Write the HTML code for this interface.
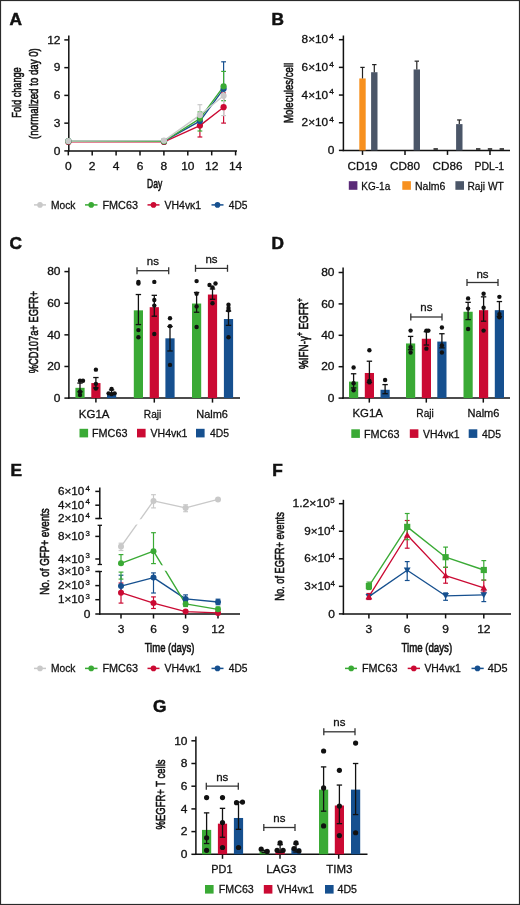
<!DOCTYPE html>
<html><head><meta charset="utf-8"><style>
html,body{margin:0;padding:0;background:#fff;}
body{width:520px;height:905px;overflow:hidden;position:relative;}
svg{position:absolute;left:0;top:0;}
text{font-family:"Liberation Sans", sans-serif;fill:#111;stroke:#111;stroke-width:0.28px;}
svg{will-change:transform;}
</style></head><body>
<svg width="520" height="905" viewBox="0 0 520 905">
<rect x="0" y="0" width="520" height="905" fill="#fff"/>
<text transform="translate(9.50,24.50) scale(1.08,1)" font-size="16" font-weight="bold" style="stroke-width:0.5px">A</text>
<line x1="68.80" y1="35.50" x2="68.80" y2="151.65" stroke="#111" stroke-width="1.5" />
<line x1="64.30" y1="150.90" x2="68.80" y2="150.90" stroke="#111" stroke-width="1.5" />
<text transform="translate(60.50,154.60) scale(1.2000,1)" font-size="10.0" text-anchor="end" >0</text>
<line x1="64.30" y1="123.15" x2="68.80" y2="123.15" stroke="#111" stroke-width="1.5" />
<text transform="translate(60.50,126.85) scale(1.2000,1)" font-size="10.0" text-anchor="end" >3</text>
<line x1="64.30" y1="95.40" x2="68.80" y2="95.40" stroke="#111" stroke-width="1.5" />
<text transform="translate(60.50,99.10) scale(1.2000,1)" font-size="10.0" text-anchor="end" >6</text>
<line x1="64.30" y1="67.65" x2="68.80" y2="67.65" stroke="#111" stroke-width="1.5" />
<text transform="translate(60.50,71.35) scale(1.2000,1)" font-size="10.0" text-anchor="end" >9</text>
<line x1="64.30" y1="39.90" x2="68.80" y2="39.90" stroke="#111" stroke-width="1.5" />
<text transform="translate(60.50,43.60) scale(1.2000,1)" font-size="10.0" text-anchor="end" >12</text>
<line x1="68.05" y1="150.90" x2="237.00" y2="150.90" stroke="#111" stroke-width="1.5" />
<line x1="68.30" y1="150.90" x2="68.30" y2="155.40" stroke="#111" stroke-width="1.5" />
<text transform="translate(68.30,169.60) scale(1.2000,1)" font-size="10.0" text-anchor="middle" >0</text>
<line x1="92.20" y1="150.90" x2="92.20" y2="155.40" stroke="#111" stroke-width="1.5" />
<text transform="translate(92.20,169.60) scale(1.2000,1)" font-size="10.0" text-anchor="middle" >2</text>
<line x1="116.10" y1="150.90" x2="116.10" y2="155.40" stroke="#111" stroke-width="1.5" />
<text transform="translate(116.10,169.60) scale(1.2000,1)" font-size="10.0" text-anchor="middle" >4</text>
<line x1="140.00" y1="150.90" x2="140.00" y2="155.40" stroke="#111" stroke-width="1.5" />
<text transform="translate(140.00,169.60) scale(1.2000,1)" font-size="10.0" text-anchor="middle" >6</text>
<line x1="163.90" y1="150.90" x2="163.90" y2="155.40" stroke="#111" stroke-width="1.5" />
<text transform="translate(163.90,169.60) scale(1.2000,1)" font-size="10.0" text-anchor="middle" >8</text>
<line x1="187.80" y1="150.90" x2="187.80" y2="155.40" stroke="#111" stroke-width="1.5" />
<text transform="translate(187.80,169.60) scale(1.2000,1)" font-size="10.0" text-anchor="middle" >10</text>
<line x1="211.70" y1="150.90" x2="211.70" y2="155.40" stroke="#111" stroke-width="1.5" />
<text transform="translate(211.70,169.60) scale(1.2000,1)" font-size="10.0" text-anchor="middle" >12</text>
<line x1="235.60" y1="150.90" x2="235.60" y2="155.40" stroke="#111" stroke-width="1.5" />
<text transform="translate(235.60,169.60) scale(1.2000,1)" font-size="10.0" text-anchor="middle" >14</text>
<text transform="translate(154.70,188.40) scale(0.6329,1)" font-size="13.5" text-anchor="middle" style="stroke-width:0.6px" >Day</text>
<text transform="translate(21.30,92.50) rotate(-90) scale(0.6782,1)" font-size="13.5" text-anchor="middle" fill="#111" style="stroke-width:0.6px" >Fold change</text>
<text transform="translate(38.40,93.60) rotate(-90) scale(0.7176,1)" font-size="13.5" text-anchor="middle" fill="#111" style="stroke-width:0.6px" >(normalized to day 0)</text>
<polyline points="68.40,141.90 164.00,141.90 199.90,125.60 223.60,107.20" fill="none" stroke="#cb0a33" stroke-width="1.35" stroke-linejoin="round"/>
<polyline points="68.40,141.20 164.00,141.20 199.90,121.10 223.60,88.80" fill="none" stroke="#16508f" stroke-width="1.35" stroke-linejoin="round"/>
<polyline points="68.40,141.20 164.00,141.20 199.90,118.60 223.60,86.30" fill="none" stroke="#3aaa35" stroke-width="1.35" stroke-linejoin="round"/>
<polyline points="68.40,141.00 164.00,140.60 199.90,115.10 223.60,95.80" fill="none" stroke="#c9c9c9" stroke-width="1.35" stroke-linejoin="round"/>
<line x1="199.90" y1="121.00" x2="199.90" y2="137.00" stroke="#cb0a33" stroke-width="1.2" />
<line x1="197.50" y1="121.00" x2="202.30" y2="121.00" stroke="#cb0a33" stroke-width="1.2" />
<line x1="197.50" y1="137.00" x2="202.30" y2="137.00" stroke="#cb0a33" stroke-width="1.2" />
<line x1="223.60" y1="93.00" x2="223.60" y2="123.10" stroke="#cb0a33" stroke-width="1.2" />
<line x1="221.20" y1="93.00" x2="226.00" y2="93.00" stroke="#cb0a33" stroke-width="1.2" />
<line x1="221.20" y1="123.10" x2="226.00" y2="123.10" stroke="#cb0a33" stroke-width="1.2" />
<line x1="199.90" y1="116.00" x2="199.90" y2="127.00" stroke="#16508f" stroke-width="1.2" />
<line x1="197.50" y1="116.00" x2="202.30" y2="116.00" stroke="#16508f" stroke-width="1.2" />
<line x1="197.50" y1="127.00" x2="202.30" y2="127.00" stroke="#16508f" stroke-width="1.2" />
<line x1="223.60" y1="61.80" x2="223.60" y2="96.00" stroke="#16508f" stroke-width="1.2" />
<line x1="221.20" y1="61.80" x2="226.00" y2="61.80" stroke="#16508f" stroke-width="1.2" />
<line x1="221.20" y1="96.00" x2="226.00" y2="96.00" stroke="#16508f" stroke-width="1.2" />
<line x1="199.90" y1="112.00" x2="199.90" y2="131.00" stroke="#3aaa35" stroke-width="1.2" />
<line x1="197.50" y1="112.00" x2="202.30" y2="112.00" stroke="#3aaa35" stroke-width="1.2" />
<line x1="197.50" y1="131.00" x2="202.30" y2="131.00" stroke="#3aaa35" stroke-width="1.2" />
<line x1="223.60" y1="71.40" x2="223.60" y2="100.70" stroke="#3aaa35" stroke-width="1.2" />
<line x1="221.20" y1="71.40" x2="226.00" y2="71.40" stroke="#3aaa35" stroke-width="1.2" />
<line x1="221.20" y1="100.70" x2="226.00" y2="100.70" stroke="#3aaa35" stroke-width="1.2" />
<line x1="199.90" y1="104.70" x2="199.90" y2="126.00" stroke="#c9c9c9" stroke-width="1.2" />
<line x1="197.50" y1="104.70" x2="202.30" y2="104.70" stroke="#c9c9c9" stroke-width="1.2" />
<line x1="197.50" y1="126.00" x2="202.30" y2="126.00" stroke="#c9c9c9" stroke-width="1.2" />
<line x1="223.60" y1="85.00" x2="223.60" y2="115.60" stroke="#c9c9c9" stroke-width="1.2" />
<line x1="221.20" y1="85.00" x2="226.00" y2="85.00" stroke="#c9c9c9" stroke-width="1.2" />
<line x1="221.20" y1="115.60" x2="226.00" y2="115.60" stroke="#c9c9c9" stroke-width="1.2" />
<circle cx="68.40" cy="141.90" r="3.1" fill="#cb0a33"/>
<circle cx="164.00" cy="141.90" r="3.1" fill="#cb0a33"/>
<circle cx="199.90" cy="125.60" r="3.1" fill="#cb0a33"/>
<circle cx="223.60" cy="107.20" r="3.1" fill="#cb0a33"/>
<circle cx="68.40" cy="141.20" r="3.1" fill="#16508f"/>
<circle cx="164.00" cy="141.20" r="3.1" fill="#16508f"/>
<circle cx="199.90" cy="121.10" r="3.1" fill="#16508f"/>
<circle cx="223.60" cy="88.80" r="3.1" fill="#16508f"/>
<circle cx="68.40" cy="141.20" r="3.1" fill="#3aaa35"/>
<circle cx="164.00" cy="141.20" r="3.1" fill="#3aaa35"/>
<circle cx="199.90" cy="118.60" r="3.1" fill="#3aaa35"/>
<circle cx="223.60" cy="86.30" r="3.1" fill="#3aaa35"/>
<circle cx="68.40" cy="141.00" r="3.1" fill="#c9c9c9"/>
<circle cx="164.00" cy="140.60" r="3.1" fill="#c9c9c9"/>
<circle cx="199.90" cy="115.10" r="3.1" fill="#c9c9c9"/>
<circle cx="223.60" cy="95.80" r="3.1" fill="#c9c9c9"/>
<line x1="34.00" y1="204.90" x2="46.00" y2="204.90" stroke="#c9c9c9" stroke-width="1.5" />
<circle cx="40.00" cy="204.90" r="2.8" fill="#c9c9c9"/>
<text transform="translate(51.00,208.70) scale(0.9322,1)" font-size="11" >Mock</text>
<line x1="85.00" y1="204.90" x2="97.50" y2="204.90" stroke="#3aaa35" stroke-width="1.5" />
<circle cx="91.20" cy="204.90" r="2.8" fill="#3aaa35"/>
<text transform="translate(102.50,208.70) scale(0.9844,1)" font-size="11" >FMC63</text>
<line x1="147.50" y1="204.90" x2="159.50" y2="204.90" stroke="#cb0a33" stroke-width="1.5" />
<circle cx="153.50" cy="204.90" r="2.8" fill="#cb0a33"/>
<text transform="translate(164.50,208.70) scale(0.9538,1)" font-size="11" >VH4vκ1</text>
<line x1="211.50" y1="204.90" x2="223.50" y2="204.90" stroke="#16508f" stroke-width="1.5" />
<circle cx="217.50" cy="204.90" r="2.8" fill="#16508f"/>
<text transform="translate(228.70,208.70) scale(0.9313,1)" font-size="11" >4D5</text>
<text transform="translate(271.50,24.50) scale(1.08,1)" font-size="16" font-weight="bold" style="stroke-width:0.5px">B</text>
<line x1="343.40" y1="35.50" x2="343.40" y2="151.15" stroke="#111" stroke-width="1.5" />
<line x1="338.90" y1="150.40" x2="343.40" y2="150.40" stroke="#111" stroke-width="1.5" />
<text transform="translate(334.30,154.00) scale(1.2000,1)" font-size="10.0" text-anchor="end" >0</text>
<line x1="338.90" y1="122.73" x2="343.40" y2="122.73" stroke="#111" stroke-width="1.5" />
<text transform="translate(301.60,126.33) scale(1.1806,1)" font-size="10.0" >2×10</text>
<text transform="translate(329.20,122.13) scale(1.1776,1)" font-size="7" >4</text>
<line x1="338.90" y1="95.05" x2="343.40" y2="95.05" stroke="#111" stroke-width="1.5" />
<text transform="translate(301.60,98.65) scale(1.1806,1)" font-size="10.0" >4×10</text>
<text transform="translate(329.20,94.45) scale(1.1776,1)" font-size="7" >4</text>
<line x1="338.90" y1="67.38" x2="343.40" y2="67.38" stroke="#111" stroke-width="1.5" />
<text transform="translate(301.60,70.97) scale(1.1806,1)" font-size="10.0" >6×10</text>
<text transform="translate(329.20,66.78) scale(1.1776,1)" font-size="7" >4</text>
<line x1="338.90" y1="39.70" x2="343.40" y2="39.70" stroke="#111" stroke-width="1.5" />
<text transform="translate(301.60,43.30) scale(1.1806,1)" font-size="10.0" >8×10</text>
<text transform="translate(329.20,39.10) scale(1.1776,1)" font-size="7" >4</text>
<line x1="342.65" y1="150.40" x2="510.00" y2="150.40" stroke="#111" stroke-width="1.5" />
<line x1="362.50" y1="150.40" x2="362.50" y2="154.90" stroke="#111" stroke-width="1.5" />
<line x1="405.00" y1="150.40" x2="405.00" y2="154.90" stroke="#111" stroke-width="1.5" />
<line x1="447.50" y1="150.40" x2="447.50" y2="154.90" stroke="#111" stroke-width="1.5" />
<line x1="490.00" y1="150.40" x2="490.00" y2="154.90" stroke="#111" stroke-width="1.5" />
<rect x="359.30" y="78.45" width="6.40" height="71.95" fill="#f7901e"/>
<line x1="362.50" y1="78.45" x2="362.50" y2="67.38" stroke="#222" stroke-width="1.2" />
<line x1="360.30" y1="67.38" x2="364.70" y2="67.38" stroke="#222" stroke-width="1.2" />
<rect x="371.10" y="72.22" width="6.40" height="78.18" fill="#4b5668"/>
<line x1="374.30" y1="72.22" x2="374.30" y2="64.61" stroke="#222" stroke-width="1.2" />
<line x1="372.10" y1="64.61" x2="376.50" y2="64.61" stroke="#222" stroke-width="1.2" />
<rect x="413.60" y="69.45" width="6.40" height="80.95" fill="#4b5668"/>
<line x1="416.80" y1="69.45" x2="416.80" y2="61.15" stroke="#222" stroke-width="1.2" />
<line x1="414.60" y1="61.15" x2="419.00" y2="61.15" stroke="#222" stroke-width="1.2" />
<line x1="433.50" y1="149.00" x2="437.90" y2="149.00" stroke="#222" stroke-width="1.6" />
<rect x="456.10" y="124.11" width="6.40" height="26.29" fill="#4b5668"/>
<line x1="459.30" y1="124.11" x2="459.30" y2="119.96" stroke="#222" stroke-width="1.2" />
<line x1="457.10" y1="119.96" x2="461.50" y2="119.96" stroke="#222" stroke-width="1.2" />
<line x1="476.00" y1="149.00" x2="480.40" y2="149.00" stroke="#222" stroke-width="1.6" />
<line x1="487.80" y1="149.00" x2="492.20" y2="149.00" stroke="#222" stroke-width="1.6" />
<line x1="499.60" y1="149.00" x2="504.00" y2="149.00" stroke="#222" stroke-width="1.6" />
<text transform="translate(347.50,169.50) scale(1.0667,1)" font-size="11" >CD19</text>
<text transform="translate(390.00,169.50) scale(1.0667,1)" font-size="11" >CD80</text>
<text transform="translate(432.50,169.50) scale(1.0667,1)" font-size="11" >CD86</text>
<text transform="translate(474.50,169.50) scale(0.9539,1)" font-size="11" >PDL-1</text>
<text transform="translate(293.40,93.00) rotate(-90) scale(0.7099,1)" font-size="13.5" text-anchor="middle" fill="#111" style="stroke-width:0.6px" >Molecules/cell</text>
<rect x="348.80" y="181.20" width="8.60" height="8.60" fill="#5a2a78"/>
<text transform="translate(361.30,189.50) scale(0.9120,1)" font-size="11" >KG-1a</text>
<rect x="402.30" y="181.20" width="8.60" height="8.60" fill="#f7901e"/>
<text transform="translate(415.00,189.50) scale(0.9592,1)" font-size="11" >Nalm6</text>
<rect x="455.40" y="181.20" width="8.60" height="8.60" fill="#4b5668"/>
<text transform="translate(467.50,189.50) scale(0.9282,1)" font-size="11" >Raji WT</text>
<text transform="translate(9.50,248.80) scale(1.08,1)" font-size="16" font-weight="bold" style="stroke-width:0.5px">C</text>
<line x1="68.90" y1="267.50" x2="68.90" y2="398.85" stroke="#111" stroke-width="1.5" />
<line x1="64.40" y1="398.10" x2="68.90" y2="398.10" stroke="#111" stroke-width="1.5" />
<text transform="translate(60.50,401.80) scale(1.2000,1)" font-size="10.0" text-anchor="end" >0</text>
<line x1="64.40" y1="366.48" x2="68.90" y2="366.48" stroke="#111" stroke-width="1.5" />
<text transform="translate(60.50,370.18) scale(1.2000,1)" font-size="10.0" text-anchor="end" >20</text>
<line x1="64.40" y1="334.85" x2="68.90" y2="334.85" stroke="#111" stroke-width="1.5" />
<text transform="translate(60.50,338.55) scale(1.2000,1)" font-size="10.0" text-anchor="end" >40</text>
<line x1="64.40" y1="303.23" x2="68.90" y2="303.23" stroke="#111" stroke-width="1.5" />
<text transform="translate(60.50,306.93) scale(1.2000,1)" font-size="10.0" text-anchor="end" >60</text>
<line x1="64.40" y1="271.60" x2="68.90" y2="271.60" stroke="#111" stroke-width="1.5" />
<text transform="translate(60.50,275.30) scale(1.2000,1)" font-size="10.0" text-anchor="end" >80</text>
<line x1="68.15" y1="398.10" x2="240.00" y2="398.10" stroke="#111" stroke-width="1.5" />
<line x1="95.90" y1="398.10" x2="95.90" y2="402.60" stroke="#111" stroke-width="1.5" />
<line x1="154.30" y1="398.10" x2="154.30" y2="402.60" stroke="#111" stroke-width="1.5" />
<line x1="212.50" y1="398.10" x2="212.50" y2="402.60" stroke="#111" stroke-width="1.5" />
<rect x="75.40" y="387.82" width="9.20" height="10.28" fill="#3aaa35"/>
<rect x="91.30" y="383.08" width="9.20" height="15.02" fill="#cb0a33"/>
<rect x="107.00" y="392.41" width="9.20" height="5.69" fill="#16508f"/>
<line x1="80.00" y1="383.08" x2="80.00" y2="391.78" stroke="#111" stroke-width="1.3" />
<line x1="77.30" y1="383.08" x2="82.70" y2="383.08" stroke="#111" stroke-width="1.3" />
<line x1="77.30" y1="391.78" x2="82.70" y2="391.78" stroke="#111" stroke-width="1.3" />
<line x1="95.90" y1="377.54" x2="95.90" y2="387.82" stroke="#111" stroke-width="1.3" />
<line x1="93.20" y1="377.54" x2="98.60" y2="377.54" stroke="#111" stroke-width="1.3" />
<line x1="93.20" y1="387.82" x2="98.60" y2="387.82" stroke="#111" stroke-width="1.3" />
<line x1="111.60" y1="389.88" x2="111.60" y2="394.31" stroke="#111" stroke-width="1.3" />
<line x1="108.90" y1="389.88" x2="114.30" y2="389.88" stroke="#111" stroke-width="1.3" />
<line x1="108.90" y1="394.31" x2="114.30" y2="394.31" stroke="#111" stroke-width="1.3" />
<circle cx="80.00" cy="380.71" r="2.2" fill="#111"/>
<circle cx="83.00" cy="380.71" r="2.2" fill="#111"/>
<circle cx="80.00" cy="391.78" r="2.2" fill="#111"/>
<circle cx="80.00" cy="394.94" r="2.2" fill="#111"/>
<circle cx="95.90" cy="369.64" r="2.2" fill="#111"/>
<circle cx="95.90" cy="383.87" r="2.2" fill="#111"/>
<circle cx="95.90" cy="388.61" r="2.2" fill="#111"/>
<circle cx="111.60" cy="388.93" r="2.2" fill="#111"/>
<circle cx="111.60" cy="394.15" r="2.2" fill="#111"/>
<circle cx="114.60" cy="393.36" r="2.2" fill="#111"/>
<circle cx="108.60" cy="393.36" r="2.2" fill="#111"/>
<rect x="133.80" y="310.34" width="9.20" height="87.76" fill="#3aaa35"/>
<rect x="149.70" y="307.18" width="9.20" height="90.92" fill="#cb0a33"/>
<rect x="165.40" y="338.33" width="9.20" height="59.77" fill="#16508f"/>
<line x1="138.40" y1="294.53" x2="138.40" y2="324.57" stroke="#111" stroke-width="1.3" />
<line x1="135.70" y1="294.53" x2="141.10" y2="294.53" stroke="#111" stroke-width="1.3" />
<line x1="135.70" y1="324.57" x2="141.10" y2="324.57" stroke="#111" stroke-width="1.3" />
<line x1="154.30" y1="295.32" x2="154.30" y2="316.19" stroke="#111" stroke-width="1.3" />
<line x1="151.60" y1="295.32" x2="157.00" y2="295.32" stroke="#111" stroke-width="1.3" />
<line x1="151.60" y1="316.19" x2="157.00" y2="316.19" stroke="#111" stroke-width="1.3" />
<line x1="170.00" y1="326.47" x2="170.00" y2="350.98" stroke="#111" stroke-width="1.3" />
<line x1="167.30" y1="326.47" x2="172.70" y2="326.47" stroke="#111" stroke-width="1.3" />
<line x1="167.30" y1="350.98" x2="172.70" y2="350.98" stroke="#111" stroke-width="1.3" />
<circle cx="138.40" cy="281.88" r="2.2" fill="#111"/>
<circle cx="138.40" cy="283.46" r="2.2" fill="#111"/>
<circle cx="138.40" cy="330.11" r="2.2" fill="#111"/>
<circle cx="138.40" cy="337.22" r="2.2" fill="#111"/>
<circle cx="154.30" cy="281.88" r="2.2" fill="#111"/>
<circle cx="154.30" cy="300.06" r="2.2" fill="#111"/>
<circle cx="154.30" cy="305.60" r="2.2" fill="#111"/>
<circle cx="154.30" cy="334.06" r="2.2" fill="#111"/>
<circle cx="170.00" cy="318.25" r="2.2" fill="#111"/>
<circle cx="170.00" cy="326.15" r="2.2" fill="#111"/>
<circle cx="170.00" cy="364.89" r="2.2" fill="#111"/>
<rect x="192.00" y="303.54" width="9.20" height="94.56" fill="#3aaa35"/>
<rect x="207.90" y="294.53" width="9.20" height="103.57" fill="#cb0a33"/>
<rect x="223.90" y="319.04" width="9.20" height="79.06" fill="#16508f"/>
<line x1="196.60" y1="292.47" x2="196.60" y2="312.24" stroke="#111" stroke-width="1.3" />
<line x1="193.90" y1="292.47" x2="199.30" y2="292.47" stroke="#111" stroke-width="1.3" />
<line x1="193.90" y1="312.24" x2="199.30" y2="312.24" stroke="#111" stroke-width="1.3" />
<line x1="212.50" y1="288.99" x2="212.50" y2="299.27" stroke="#111" stroke-width="1.3" />
<line x1="209.80" y1="288.99" x2="215.20" y2="288.99" stroke="#111" stroke-width="1.3" />
<line x1="209.80" y1="299.27" x2="215.20" y2="299.27" stroke="#111" stroke-width="1.3" />
<line x1="228.50" y1="311.13" x2="228.50" y2="325.36" stroke="#111" stroke-width="1.3" />
<line x1="225.80" y1="311.13" x2="231.20" y2="311.13" stroke="#111" stroke-width="1.3" />
<line x1="225.80" y1="325.36" x2="231.20" y2="325.36" stroke="#111" stroke-width="1.3" />
<circle cx="196.60" cy="281.09" r="2.2" fill="#111"/>
<circle cx="196.60" cy="293.74" r="2.2" fill="#111"/>
<circle cx="196.60" cy="306.39" r="2.2" fill="#111"/>
<circle cx="196.60" cy="326.94" r="2.2" fill="#111"/>
<circle cx="209.50" cy="285.04" r="2.2" fill="#111"/>
<circle cx="215.50" cy="283.46" r="2.2" fill="#111"/>
<circle cx="212.50" cy="287.41" r="2.2" fill="#111"/>
<circle cx="212.50" cy="303.23" r="2.2" fill="#111"/>
<circle cx="228.50" cy="304.81" r="2.2" fill="#111"/>
<circle cx="228.50" cy="307.97" r="2.2" fill="#111"/>
<circle cx="228.50" cy="310.34" r="2.2" fill="#111"/>
<circle cx="228.50" cy="337.22" r="2.2" fill="#111"/>
<line x1="137.00" y1="270.70" x2="168.70" y2="270.70" stroke="#333" stroke-width="1.3" />
<line x1="137.00" y1="267.20" x2="137.00" y2="274.20" stroke="#333" stroke-width="1.3" />
<line x1="168.70" y1="267.20" x2="168.70" y2="274.20" stroke="#333" stroke-width="1.3" />
<text x="152.85" y="264.50" font-size="11.5" text-anchor="middle" fill="#222" >ns</text>
<line x1="195.50" y1="268.30" x2="227.50" y2="268.30" stroke="#333" stroke-width="1.3" />
<line x1="195.50" y1="264.80" x2="195.50" y2="271.80" stroke="#333" stroke-width="1.3" />
<line x1="227.50" y1="264.80" x2="227.50" y2="271.80" stroke="#333" stroke-width="1.3" />
<text x="211.50" y="262.50" font-size="11.5" text-anchor="middle" fill="#222" >ns</text>
<text transform="translate(78.80,417.50) scale(1.0457,1)" font-size="11" >KG1A</text>
<text transform="translate(143.80,417.50) scale(0.9233,1)" font-size="11" >Raji</text>
<text transform="translate(196.30,417.50) scale(0.9970,1)" font-size="11" >Nalm6</text>
<text transform="translate(37.60,332.20) rotate(-90) scale(0.6950,1)" font-size="13.5" text-anchor="middle" fill="#111" style="stroke-width:0.6px" >%CD107a+ EGFR+</text>
<rect x="79.50" y="428.80" width="8.60" height="8.60" fill="#3aaa35"/>
<text transform="translate(92.00,437.10) scale(0.9844,1)" font-size="11" >FMC63</text>
<rect x="137.00" y="428.80" width="8.60" height="8.60" fill="#cb0a33"/>
<text transform="translate(150.50,437.10) scale(0.9603,1)" font-size="11" >VH4vκ1</text>
<rect x="196.00" y="428.80" width="8.60" height="8.60" fill="#16508f"/>
<text transform="translate(210.00,437.10) scale(0.9412,1)" font-size="11" >4D5</text>
<text transform="translate(271.50,248.80) scale(1.08,1)" font-size="16" font-weight="bold" style="stroke-width:0.5px">D</text>
<line x1="343.10" y1="267.50" x2="343.10" y2="398.85" stroke="#111" stroke-width="1.5" />
<line x1="338.60" y1="398.10" x2="343.10" y2="398.10" stroke="#111" stroke-width="1.5" />
<text transform="translate(334.50,401.80) scale(1.2000,1)" font-size="10.0" text-anchor="end" >0</text>
<line x1="338.60" y1="366.70" x2="343.10" y2="366.70" stroke="#111" stroke-width="1.5" />
<text transform="translate(334.50,370.40) scale(1.2000,1)" font-size="10.0" text-anchor="end" >20</text>
<line x1="338.60" y1="335.30" x2="343.10" y2="335.30" stroke="#111" stroke-width="1.5" />
<text transform="translate(334.50,339.00) scale(1.2000,1)" font-size="10.0" text-anchor="end" >40</text>
<line x1="338.60" y1="303.90" x2="343.10" y2="303.90" stroke="#111" stroke-width="1.5" />
<text transform="translate(334.50,307.60) scale(1.2000,1)" font-size="10.0" text-anchor="end" >60</text>
<line x1="338.60" y1="272.50" x2="343.10" y2="272.50" stroke="#111" stroke-width="1.5" />
<text transform="translate(334.50,276.20) scale(1.2000,1)" font-size="10.0" text-anchor="end" >80</text>
<line x1="342.35" y1="398.10" x2="510.00" y2="398.10" stroke="#111" stroke-width="1.5" />
<line x1="369.30" y1="398.10" x2="369.30" y2="402.60" stroke="#111" stroke-width="1.5" />
<line x1="426.30" y1="398.10" x2="426.30" y2="402.60" stroke="#111" stroke-width="1.5" />
<line x1="483.30" y1="398.10" x2="483.30" y2="402.60" stroke="#111" stroke-width="1.5" />
<rect x="349.00" y="381.62" width="9.20" height="16.49" fill="#3aaa35"/>
<rect x="364.80" y="372.98" width="9.20" height="25.12" fill="#cb0a33"/>
<rect x="380.50" y="389.78" width="9.20" height="8.32" fill="#16508f"/>
<line x1="353.60" y1="373.77" x2="353.60" y2="387.90" stroke="#111" stroke-width="1.3" />
<line x1="350.90" y1="373.77" x2="356.30" y2="373.77" stroke="#111" stroke-width="1.3" />
<line x1="350.90" y1="387.90" x2="356.30" y2="387.90" stroke="#111" stroke-width="1.3" />
<line x1="369.40" y1="361.21" x2="369.40" y2="382.40" stroke="#111" stroke-width="1.3" />
<line x1="366.70" y1="361.21" x2="372.10" y2="361.21" stroke="#111" stroke-width="1.3" />
<line x1="366.70" y1="382.40" x2="372.10" y2="382.40" stroke="#111" stroke-width="1.3" />
<line x1="385.10" y1="384.60" x2="385.10" y2="393.70" stroke="#111" stroke-width="1.3" />
<line x1="382.40" y1="384.60" x2="387.80" y2="384.60" stroke="#111" stroke-width="1.3" />
<line x1="382.40" y1="393.70" x2="387.80" y2="393.70" stroke="#111" stroke-width="1.3" />
<circle cx="353.60" cy="367.49" r="2.2" fill="#111"/>
<circle cx="353.60" cy="383.19" r="2.2" fill="#111"/>
<circle cx="353.60" cy="390.25" r="2.2" fill="#111"/>
<circle cx="369.40" cy="350.22" r="2.2" fill="#111"/>
<circle cx="369.40" cy="380.83" r="2.2" fill="#111"/>
<circle cx="369.40" cy="382.40" r="2.2" fill="#111"/>
<circle cx="385.10" cy="380.05" r="2.2" fill="#111"/>
<rect x="406.00" y="343.46" width="9.20" height="54.64" fill="#3aaa35"/>
<rect x="421.80" y="338.75" width="9.20" height="59.35" fill="#cb0a33"/>
<rect x="437.30" y="341.58" width="9.20" height="56.52" fill="#16508f"/>
<line x1="410.60" y1="336.40" x2="410.60" y2="349.74" stroke="#111" stroke-width="1.3" />
<line x1="407.90" y1="336.40" x2="413.30" y2="336.40" stroke="#111" stroke-width="1.3" />
<line x1="407.90" y1="349.74" x2="413.30" y2="349.74" stroke="#111" stroke-width="1.3" />
<line x1="426.40" y1="331.69" x2="426.40" y2="345.03" stroke="#111" stroke-width="1.3" />
<line x1="423.70" y1="331.69" x2="429.10" y2="331.69" stroke="#111" stroke-width="1.3" />
<line x1="423.70" y1="345.03" x2="429.10" y2="345.03" stroke="#111" stroke-width="1.3" />
<line x1="441.90" y1="333.73" x2="441.90" y2="347.86" stroke="#111" stroke-width="1.3" />
<line x1="439.20" y1="333.73" x2="444.60" y2="333.73" stroke="#111" stroke-width="1.3" />
<line x1="439.20" y1="347.86" x2="444.60" y2="347.86" stroke="#111" stroke-width="1.3" />
<circle cx="410.60" cy="330.59" r="2.2" fill="#111"/>
<circle cx="410.60" cy="347.08" r="2.2" fill="#111"/>
<circle cx="410.60" cy="352.57" r="2.2" fill="#111"/>
<circle cx="426.40" cy="330.59" r="2.2" fill="#111"/>
<circle cx="428.40" cy="330.59" r="2.2" fill="#111"/>
<circle cx="426.40" cy="348.64" r="2.2" fill="#111"/>
<circle cx="441.90" cy="327.45" r="2.2" fill="#111"/>
<circle cx="441.90" cy="345.50" r="2.2" fill="#111"/>
<circle cx="441.90" cy="352.57" r="2.2" fill="#111"/>
<rect x="463.50" y="311.75" width="9.20" height="86.35" fill="#3aaa35"/>
<rect x="479.00" y="310.18" width="9.20" height="87.92" fill="#cb0a33"/>
<rect x="494.80" y="310.18" width="9.20" height="87.92" fill="#16508f"/>
<line x1="468.10" y1="302.33" x2="468.10" y2="319.60" stroke="#111" stroke-width="1.3" />
<line x1="465.40" y1="302.33" x2="470.80" y2="302.33" stroke="#111" stroke-width="1.3" />
<line x1="465.40" y1="319.60" x2="470.80" y2="319.60" stroke="#111" stroke-width="1.3" />
<line x1="483.60" y1="296.84" x2="483.60" y2="321.17" stroke="#111" stroke-width="1.3" />
<line x1="480.90" y1="296.84" x2="486.30" y2="296.84" stroke="#111" stroke-width="1.3" />
<line x1="480.90" y1="321.17" x2="486.30" y2="321.17" stroke="#111" stroke-width="1.3" />
<line x1="499.40" y1="301.55" x2="499.40" y2="316.46" stroke="#111" stroke-width="1.3" />
<line x1="496.70" y1="301.55" x2="502.10" y2="301.55" stroke="#111" stroke-width="1.3" />
<line x1="496.70" y1="316.46" x2="502.10" y2="316.46" stroke="#111" stroke-width="1.3" />
<circle cx="468.10" cy="298.40" r="2.2" fill="#111"/>
<circle cx="468.10" cy="308.61" r="2.2" fill="#111"/>
<circle cx="468.10" cy="329.02" r="2.2" fill="#111"/>
<circle cx="483.60" cy="293.69" r="2.2" fill="#111"/>
<circle cx="483.60" cy="307.82" r="2.2" fill="#111"/>
<circle cx="483.60" cy="330.59" r="2.2" fill="#111"/>
<circle cx="499.40" cy="296.84" r="2.2" fill="#111"/>
<circle cx="499.40" cy="314.11" r="2.2" fill="#111"/>
<circle cx="499.40" cy="317.25" r="2.2" fill="#111"/>
<line x1="410.80" y1="317.00" x2="442.00" y2="317.00" stroke="#333" stroke-width="1.3" />
<line x1="410.80" y1="313.50" x2="410.80" y2="320.50" stroke="#333" stroke-width="1.3" />
<line x1="442.00" y1="313.50" x2="442.00" y2="320.50" stroke="#333" stroke-width="1.3" />
<text x="426.40" y="311.30" font-size="11.5" text-anchor="middle" fill="#222" >ns</text>
<line x1="467.00" y1="282.50" x2="498.00" y2="282.50" stroke="#333" stroke-width="1.3" />
<line x1="467.00" y1="279.00" x2="467.00" y2="286.00" stroke="#333" stroke-width="1.3" />
<line x1="498.00" y1="279.00" x2="498.00" y2="286.00" stroke="#333" stroke-width="1.3" />
<text x="482.50" y="277.50" font-size="11.5" text-anchor="middle" fill="#222" >ns</text>
<text transform="translate(352.50,417.30) scale(1.0389,1)" font-size="11" >KG1A</text>
<text transform="translate(416.30,417.30) scale(0.9233,1)" font-size="11" >Raji</text>
<text transform="translate(467.50,417.30) scale(1.0064,1)" font-size="11" >Nalm6</text>
<text transform="translate(308.20,333.60) rotate(-90) scale(0.7314,1)" font-size="13.5" text-anchor="middle" fill="#111" style="stroke-width:0.6px" >%IFN-γ<tspan font-size="9" dy="-5">+</tspan><tspan dy="5"> EGFR</tspan><tspan font-size="9" dy="-5">+</tspan></text>
<rect x="351.30" y="429.30" width="8.60" height="8.60" fill="#3aaa35"/>
<text transform="translate(364.00,437.60) scale(0.9844,1)" font-size="11" >FMC63</text>
<rect x="409.80" y="429.30" width="8.60" height="8.60" fill="#cb0a33"/>
<text transform="translate(423.00,437.60) scale(0.9473,1)" font-size="11" >VH4vκ1</text>
<rect x="468.70" y="429.30" width="8.60" height="8.60" fill="#16508f"/>
<text transform="translate(482.00,437.60) scale(0.9412,1)" font-size="11" >4D5</text>
<text transform="translate(10.60,476.20) scale(1.08,1)" font-size="16" font-weight="bold" style="stroke-width:0.5px">E</text>
<line x1="99.80" y1="487.50" x2="99.80" y2="518.50" stroke="#111" stroke-width="1.5" />
<line x1="99.80" y1="525.30" x2="99.80" y2="564.50" stroke="#111" stroke-width="1.5" />
<line x1="99.80" y1="571.50" x2="99.80" y2="614.75" stroke="#111" stroke-width="1.5" />
<line x1="97.60" y1="518.50" x2="102.00" y2="518.50" stroke="#111" stroke-width="1.3" />
<line x1="97.60" y1="525.30" x2="102.00" y2="525.30" stroke="#111" stroke-width="1.3" />
<line x1="97.60" y1="564.50" x2="102.00" y2="564.50" stroke="#111" stroke-width="1.3" />
<line x1="97.60" y1="571.50" x2="102.00" y2="571.50" stroke="#111" stroke-width="1.3" />
<line x1="95.30" y1="491.40" x2="99.80" y2="491.40" stroke="#111" stroke-width="1.5" />
<text transform="translate(58.00,495.00) scale(1.1673,1)" font-size="10.0" >6×10</text>
<text transform="translate(85.40,490.60) scale(1.1264,1)" font-size="7" >4</text>
<line x1="95.30" y1="505.20" x2="99.80" y2="505.20" stroke="#111" stroke-width="1.5" />
<text transform="translate(58.00,508.80) scale(1.1673,1)" font-size="10.0" >4×10</text>
<text transform="translate(85.40,504.40) scale(1.1264,1)" font-size="7" >4</text>
<line x1="95.30" y1="518.50" x2="99.80" y2="518.50" stroke="#111" stroke-width="1.5" />
<text transform="translate(58.00,522.10) scale(1.1673,1)" font-size="10.0" >2×10</text>
<text transform="translate(85.40,517.70) scale(1.1264,1)" font-size="7" >4</text>
<line x1="95.30" y1="536.40" x2="99.80" y2="536.40" stroke="#111" stroke-width="1.5" />
<text transform="translate(58.00,540.00) scale(1.1673,1)" font-size="10.0" >8×10</text>
<text transform="translate(85.40,535.60) scale(1.1264,1)" font-size="7" >3</text>
<line x1="95.30" y1="559.00" x2="99.80" y2="559.00" stroke="#111" stroke-width="1.5" />
<text transform="translate(58.00,562.60) scale(1.1673,1)" font-size="10.0" >4×10</text>
<text transform="translate(85.40,558.20) scale(1.1264,1)" font-size="7" >3</text>
<line x1="95.30" y1="571.50" x2="99.80" y2="571.50" stroke="#111" stroke-width="1.5" />
<text transform="translate(58.00,575.10) scale(1.1673,1)" font-size="10.0" >3×10</text>
<text transform="translate(85.40,570.70) scale(1.1264,1)" font-size="7" >3</text>
<line x1="95.30" y1="585.60" x2="99.80" y2="585.60" stroke="#111" stroke-width="1.5" />
<text transform="translate(58.00,589.20) scale(1.1673,1)" font-size="10.0" >2×10</text>
<text transform="translate(85.40,584.80) scale(1.1264,1)" font-size="7" >3</text>
<line x1="95.30" y1="599.70" x2="99.80" y2="599.70" stroke="#111" stroke-width="1.5" />
<text transform="translate(58.00,603.30) scale(1.1673,1)" font-size="10.0" >1×10</text>
<text transform="translate(85.40,598.90) scale(1.1264,1)" font-size="7" >3</text>
<line x1="95.30" y1="614.00" x2="99.80" y2="614.00" stroke="#111" stroke-width="1.5" />
<text transform="translate(90.50,617.60) scale(1.2000,1)" font-size="10.0" text-anchor="end" >0</text>
<line x1="99.05" y1="614.00" x2="240.00" y2="614.00" stroke="#111" stroke-width="1.5" />
<line x1="121.00" y1="614.00" x2="121.00" y2="618.50" stroke="#111" stroke-width="1.5" />
<text transform="translate(121.00,633.00) scale(1.2000,1)" font-size="10.0" text-anchor="middle" >3</text>
<line x1="153.50" y1="614.00" x2="153.50" y2="618.50" stroke="#111" stroke-width="1.5" />
<text transform="translate(153.50,633.00) scale(1.2000,1)" font-size="10.0" text-anchor="middle" >6</text>
<line x1="185.60" y1="614.00" x2="185.60" y2="618.50" stroke="#111" stroke-width="1.5" />
<text transform="translate(185.60,633.00) scale(1.2000,1)" font-size="10.0" text-anchor="middle" >9</text>
<line x1="218.00" y1="614.00" x2="218.00" y2="618.50" stroke="#111" stroke-width="1.5" />
<text transform="translate(218.00,633.00) scale(1.2000,1)" font-size="10.0" text-anchor="middle" >12</text>
<text transform="translate(169.60,651.60) scale(0.7051,1)" font-size="13.5" text-anchor="middle" style="stroke-width:0.6px" >Time (days)</text>
<text transform="translate(49.20,551.50) rotate(-90) scale(0.7273,1)" font-size="13.5" text-anchor="middle" fill="#111" style="stroke-width:0.6px" >No. of GFP+ events</text>
<polyline points="121.00,546.60 153.50,500.90 185.60,507.90 218.00,499.40" fill="none" stroke="#c9c9c9" stroke-width="1.35" stroke-linejoin="round"/>
<polyline points="121.00,592.70 153.50,603.10 185.60,611.60 218.00,612.90" fill="none" stroke="#cb0a33" stroke-width="1.35" stroke-linejoin="round"/>
<polyline points="121.00,586.10 153.50,577.60 185.60,598.90 218.00,602.00" fill="none" stroke="#16508f" stroke-width="1.35" stroke-linejoin="round"/>
<polyline points="121.00,563.30 153.50,551.20 185.60,603.90 218.00,609.30" fill="none" stroke="#3aaa35" stroke-width="1.35" stroke-linejoin="round"/>
<rect x="102" y="519.3" width="138" height="5.2" fill="#fff"/>
<rect x="102" y="565.3" width="138" height="5.4" fill="#fff"/>
<line x1="121.00" y1="543.20" x2="121.00" y2="550.50" stroke="#c9c9c9" stroke-width="1.2" />
<line x1="118.60" y1="543.20" x2="123.40" y2="543.20" stroke="#c9c9c9" stroke-width="1.2" />
<line x1="118.60" y1="550.50" x2="123.40" y2="550.50" stroke="#c9c9c9" stroke-width="1.2" />
<line x1="153.50" y1="494.70" x2="153.50" y2="507.90" stroke="#c9c9c9" stroke-width="1.2" />
<line x1="151.10" y1="494.70" x2="155.90" y2="494.70" stroke="#c9c9c9" stroke-width="1.2" />
<line x1="151.10" y1="507.90" x2="155.90" y2="507.90" stroke="#c9c9c9" stroke-width="1.2" />
<line x1="185.60" y1="504.80" x2="185.60" y2="511.70" stroke="#c9c9c9" stroke-width="1.2" />
<line x1="183.20" y1="504.80" x2="188.00" y2="504.80" stroke="#c9c9c9" stroke-width="1.2" />
<line x1="183.20" y1="511.70" x2="188.00" y2="511.70" stroke="#c9c9c9" stroke-width="1.2" />
<line x1="121.00" y1="583.00" x2="121.00" y2="603.10" stroke="#cb0a33" stroke-width="1.2" />
<line x1="118.60" y1="583.00" x2="123.40" y2="583.00" stroke="#cb0a33" stroke-width="1.2" />
<line x1="118.60" y1="603.10" x2="123.40" y2="603.10" stroke="#cb0a33" stroke-width="1.2" />
<line x1="153.50" y1="596.90" x2="153.50" y2="608.50" stroke="#cb0a33" stroke-width="1.2" />
<line x1="151.10" y1="596.90" x2="155.90" y2="596.90" stroke="#cb0a33" stroke-width="1.2" />
<line x1="151.10" y1="608.50" x2="155.90" y2="608.50" stroke="#cb0a33" stroke-width="1.2" />
<line x1="121.00" y1="575.20" x2="121.00" y2="592.00" stroke="#16508f" stroke-width="1.2" />
<line x1="118.60" y1="575.20" x2="123.40" y2="575.20" stroke="#16508f" stroke-width="1.2" />
<line x1="118.60" y1="592.00" x2="123.40" y2="592.00" stroke="#16508f" stroke-width="1.2" />
<line x1="153.50" y1="572.90" x2="153.50" y2="593.00" stroke="#16508f" stroke-width="1.2" />
<line x1="151.10" y1="572.90" x2="155.90" y2="572.90" stroke="#16508f" stroke-width="1.2" />
<line x1="151.10" y1="593.00" x2="155.90" y2="593.00" stroke="#16508f" stroke-width="1.2" />
<line x1="185.60" y1="594.90" x2="185.60" y2="601.50" stroke="#16508f" stroke-width="1.2" />
<line x1="183.20" y1="594.90" x2="188.00" y2="594.90" stroke="#16508f" stroke-width="1.2" />
<line x1="183.20" y1="601.50" x2="188.00" y2="601.50" stroke="#16508f" stroke-width="1.2" />
<line x1="218.00" y1="599.20" x2="218.00" y2="604.70" stroke="#16508f" stroke-width="1.2" />
<line x1="215.60" y1="599.20" x2="220.40" y2="599.20" stroke="#16508f" stroke-width="1.2" />
<line x1="215.60" y1="604.70" x2="220.40" y2="604.70" stroke="#16508f" stroke-width="1.2" />
<line x1="121.00" y1="554.60" x2="121.00" y2="564.50" stroke="#3aaa35" stroke-width="1.2" />
<line x1="118.60" y1="554.60" x2="123.40" y2="554.60" stroke="#3aaa35" stroke-width="1.2" />
<line x1="118.60" y1="564.50" x2="123.40" y2="564.50" stroke="#3aaa35" stroke-width="1.2" />
<line x1="153.50" y1="532.70" x2="153.50" y2="563.60" stroke="#3aaa35" stroke-width="1.2" />
<line x1="151.10" y1="532.70" x2="155.90" y2="532.70" stroke="#3aaa35" stroke-width="1.2" />
<line x1="151.10" y1="563.60" x2="155.90" y2="563.60" stroke="#3aaa35" stroke-width="1.2" />
<line x1="185.60" y1="601.00" x2="185.60" y2="606.50" stroke="#3aaa35" stroke-width="1.2" />
<line x1="183.20" y1="601.00" x2="188.00" y2="601.00" stroke="#3aaa35" stroke-width="1.2" />
<line x1="183.20" y1="606.50" x2="188.00" y2="606.50" stroke="#3aaa35" stroke-width="1.2" />
<line x1="218.00" y1="607.00" x2="218.00" y2="611.50" stroke="#3aaa35" stroke-width="1.2" />
<line x1="215.60" y1="607.00" x2="220.40" y2="607.00" stroke="#3aaa35" stroke-width="1.2" />
<line x1="215.60" y1="611.50" x2="220.40" y2="611.50" stroke="#3aaa35" stroke-width="1.2" />
<line x1="121.00" y1="572.10" x2="121.00" y2="579.10" stroke="#3aaa35" stroke-width="1.2" />
<line x1="118.60" y1="572.10" x2="123.40" y2="572.10" stroke="#3aaa35" stroke-width="1.2" />
<line x1="118.60" y1="579.10" x2="123.40" y2="579.10" stroke="#3aaa35" stroke-width="1.2" />
<circle cx="121.00" cy="546.60" r="3.0" fill="#c9c9c9"/>
<circle cx="153.50" cy="500.90" r="3.0" fill="#c9c9c9"/>
<circle cx="185.60" cy="507.90" r="3.0" fill="#c9c9c9"/>
<circle cx="218.00" cy="499.40" r="3.0" fill="#c9c9c9"/>
<circle cx="121.00" cy="592.70" r="3.0" fill="#cb0a33"/>
<circle cx="153.50" cy="603.10" r="3.0" fill="#cb0a33"/>
<circle cx="185.60" cy="611.60" r="3.0" fill="#cb0a33"/>
<circle cx="218.00" cy="612.90" r="3.0" fill="#cb0a33"/>
<circle cx="121.00" cy="586.10" r="3.0" fill="#16508f"/>
<circle cx="153.50" cy="577.60" r="3.0" fill="#16508f"/>
<circle cx="185.60" cy="598.90" r="3.0" fill="#16508f"/>
<circle cx="218.00" cy="602.00" r="3.0" fill="#16508f"/>
<circle cx="121.00" cy="563.30" r="3.0" fill="#3aaa35"/>
<circle cx="153.50" cy="551.20" r="3.0" fill="#3aaa35"/>
<circle cx="185.60" cy="603.90" r="3.0" fill="#3aaa35"/>
<circle cx="218.00" cy="609.30" r="3.0" fill="#3aaa35"/>
<line x1="34.00" y1="668.40" x2="46.00" y2="668.40" stroke="#c9c9c9" stroke-width="1.5" />
<circle cx="40.00" cy="668.40" r="2.8" fill="#c9c9c9"/>
<text transform="translate(51.00,672.20) scale(0.9322,1)" font-size="11" >Mock</text>
<line x1="85.00" y1="668.40" x2="97.50" y2="668.40" stroke="#3aaa35" stroke-width="1.5" />
<circle cx="91.20" cy="668.40" r="2.8" fill="#3aaa35"/>
<text transform="translate(102.50,672.20) scale(0.9844,1)" font-size="11" >FMC63</text>
<line x1="147.50" y1="668.40" x2="159.50" y2="668.40" stroke="#cb0a33" stroke-width="1.5" />
<circle cx="153.50" cy="668.40" r="2.8" fill="#cb0a33"/>
<text transform="translate(164.50,672.20) scale(0.9538,1)" font-size="11" >VH4vκ1</text>
<line x1="211.50" y1="668.40" x2="223.50" y2="668.40" stroke="#16508f" stroke-width="1.5" />
<circle cx="217.50" cy="668.40" r="2.8" fill="#16508f"/>
<text transform="translate(228.70,672.20) scale(0.9313,1)" font-size="11" >4D5</text>
<text transform="translate(272.30,476.20) scale(1.08,1)" font-size="16" font-weight="bold" style="stroke-width:0.5px">F</text>
<line x1="343.40" y1="499.80" x2="343.40" y2="614.65" stroke="#111" stroke-width="1.5" />
<line x1="338.90" y1="503.70" x2="343.40" y2="503.70" stroke="#111" stroke-width="1.5" />
<text transform="translate(292.50,507.30) scale(1.2146,1)" font-size="10.0" >1.2×10</text>
<text transform="translate(330.20,502.90) scale(1.1264,1)" font-size="7" >5</text>
<line x1="338.90" y1="531.25" x2="343.40" y2="531.25" stroke="#111" stroke-width="1.5" />
<text transform="translate(304.20,534.85) scale(1.1673,1)" font-size="10.0" >9×10</text>
<text transform="translate(330.60,530.45) scale(1.1264,1)" font-size="7" >4</text>
<line x1="338.90" y1="558.80" x2="343.40" y2="558.80" stroke="#111" stroke-width="1.5" />
<text transform="translate(304.20,562.40) scale(1.1673,1)" font-size="10.0" >6×10</text>
<text transform="translate(330.60,558.00) scale(1.1264,1)" font-size="7" >4</text>
<line x1="338.90" y1="586.35" x2="343.40" y2="586.35" stroke="#111" stroke-width="1.5" />
<text transform="translate(304.20,589.95) scale(1.1673,1)" font-size="10.0" >3×10</text>
<text transform="translate(330.60,585.55) scale(1.1264,1)" font-size="7" >4</text>
<line x1="338.90" y1="613.90" x2="343.40" y2="613.90" stroke="#111" stroke-width="1.5" />
<text transform="translate(334.80,617.50) scale(1.2000,1)" font-size="10.0" text-anchor="end" >0</text>
<line x1="342.65" y1="613.90" x2="511.00" y2="613.90" stroke="#111" stroke-width="1.5" />
<line x1="368.90" y1="613.90" x2="368.90" y2="618.40" stroke="#111" stroke-width="1.5" />
<text transform="translate(368.90,633.00) scale(1.2000,1)" font-size="10.0" text-anchor="middle" >3</text>
<line x1="407.20" y1="613.90" x2="407.20" y2="618.40" stroke="#111" stroke-width="1.5" />
<text transform="translate(407.20,633.00) scale(1.2000,1)" font-size="10.0" text-anchor="middle" >6</text>
<line x1="445.60" y1="613.90" x2="445.60" y2="618.40" stroke="#111" stroke-width="1.5" />
<text transform="translate(445.60,633.00) scale(1.2000,1)" font-size="10.0" text-anchor="middle" >9</text>
<line x1="483.80" y1="613.90" x2="483.80" y2="618.40" stroke="#111" stroke-width="1.5" />
<text transform="translate(483.80,633.00) scale(1.2000,1)" font-size="10.0" text-anchor="middle" >12</text>
<text transform="translate(426.80,651.60) scale(0.7164,1)" font-size="13.5" text-anchor="middle" style="stroke-width:0.6px" >Time (days)</text>
<text transform="translate(283.60,556.50) rotate(-90) scale(0.6893,1)" font-size="13.5" text-anchor="middle" fill="#111" style="stroke-width:0.6px" >No. of EGFR+ events</text>
<polyline points="368.90,596.60 407.20,570.30 445.60,595.80 483.80,594.90" fill="none" stroke="#16508f" stroke-width="1.35" stroke-linejoin="round"/>
<polyline points="368.90,596.60 407.20,535.00 445.60,575.60 483.80,587.80" fill="none" stroke="#cb0a33" stroke-width="1.35" stroke-linejoin="round"/>
<polyline points="368.90,586.10 407.20,526.90 445.60,557.20 483.80,570.00" fill="none" stroke="#3aaa35" stroke-width="1.35" stroke-linejoin="round"/>
<line x1="368.90" y1="594.00" x2="368.90" y2="599.00" stroke="#16508f" stroke-width="1.2" />
<line x1="366.50" y1="594.00" x2="371.30" y2="594.00" stroke="#16508f" stroke-width="1.2" />
<line x1="366.50" y1="599.00" x2="371.30" y2="599.00" stroke="#16508f" stroke-width="1.2" />
<line x1="407.20" y1="561.60" x2="407.20" y2="580.50" stroke="#16508f" stroke-width="1.2" />
<line x1="404.80" y1="561.60" x2="409.60" y2="561.60" stroke="#16508f" stroke-width="1.2" />
<line x1="404.80" y1="580.50" x2="409.60" y2="580.50" stroke="#16508f" stroke-width="1.2" />
<line x1="445.60" y1="592.90" x2="445.60" y2="600.30" stroke="#16508f" stroke-width="1.2" />
<line x1="443.20" y1="592.90" x2="448.00" y2="592.90" stroke="#16508f" stroke-width="1.2" />
<line x1="443.20" y1="600.30" x2="448.00" y2="600.30" stroke="#16508f" stroke-width="1.2" />
<line x1="483.80" y1="590.00" x2="483.80" y2="601.60" stroke="#16508f" stroke-width="1.2" />
<line x1="481.40" y1="590.00" x2="486.20" y2="590.00" stroke="#16508f" stroke-width="1.2" />
<line x1="481.40" y1="601.60" x2="486.20" y2="601.60" stroke="#16508f" stroke-width="1.2" />
<line x1="368.90" y1="593.50" x2="368.90" y2="599.50" stroke="#cb0a33" stroke-width="1.2" />
<line x1="366.50" y1="593.50" x2="371.30" y2="593.50" stroke="#cb0a33" stroke-width="1.2" />
<line x1="366.50" y1="599.50" x2="371.30" y2="599.50" stroke="#cb0a33" stroke-width="1.2" />
<line x1="407.20" y1="520.50" x2="407.20" y2="548.20" stroke="#cb0a33" stroke-width="1.2" />
<line x1="404.80" y1="520.50" x2="409.60" y2="520.50" stroke="#cb0a33" stroke-width="1.2" />
<line x1="404.80" y1="548.20" x2="409.60" y2="548.20" stroke="#cb0a33" stroke-width="1.2" />
<line x1="445.60" y1="567.30" x2="445.60" y2="583.20" stroke="#cb0a33" stroke-width="1.2" />
<line x1="443.20" y1="567.30" x2="448.00" y2="567.30" stroke="#cb0a33" stroke-width="1.2" />
<line x1="443.20" y1="583.20" x2="448.00" y2="583.20" stroke="#cb0a33" stroke-width="1.2" />
<line x1="483.80" y1="580.10" x2="483.80" y2="592.00" stroke="#cb0a33" stroke-width="1.2" />
<line x1="481.40" y1="580.10" x2="486.20" y2="580.10" stroke="#cb0a33" stroke-width="1.2" />
<line x1="481.40" y1="592.00" x2="486.20" y2="592.00" stroke="#cb0a33" stroke-width="1.2" />
<line x1="368.90" y1="582.10" x2="368.90" y2="589.50" stroke="#3aaa35" stroke-width="1.2" />
<line x1="366.50" y1="582.10" x2="371.30" y2="582.10" stroke="#3aaa35" stroke-width="1.2" />
<line x1="366.50" y1="589.50" x2="371.30" y2="589.50" stroke="#3aaa35" stroke-width="1.2" />
<line x1="407.20" y1="513.50" x2="407.20" y2="539.70" stroke="#3aaa35" stroke-width="1.2" />
<line x1="404.80" y1="513.50" x2="409.60" y2="513.50" stroke="#3aaa35" stroke-width="1.2" />
<line x1="404.80" y1="539.70" x2="409.60" y2="539.70" stroke="#3aaa35" stroke-width="1.2" />
<line x1="445.60" y1="547.10" x2="445.60" y2="567.30" stroke="#3aaa35" stroke-width="1.2" />
<line x1="443.20" y1="547.10" x2="448.00" y2="547.10" stroke="#3aaa35" stroke-width="1.2" />
<line x1="443.20" y1="567.30" x2="448.00" y2="567.30" stroke="#3aaa35" stroke-width="1.2" />
<line x1="483.80" y1="560.60" x2="483.80" y2="580.10" stroke="#3aaa35" stroke-width="1.2" />
<line x1="481.40" y1="560.60" x2="486.20" y2="560.60" stroke="#3aaa35" stroke-width="1.2" />
<line x1="481.40" y1="580.10" x2="486.20" y2="580.10" stroke="#3aaa35" stroke-width="1.2" />
<polygon points="365.50,593.90 372.30,593.90 368.90,599.90" fill="#16508f"/>
<polygon points="403.80,567.60 410.60,567.60 407.20,573.60" fill="#16508f"/>
<polygon points="442.20,593.10 449.00,593.10 445.60,599.10" fill="#16508f"/>
<polygon points="480.40,592.20 487.20,592.20 483.80,598.20" fill="#16508f"/>
<polygon points="365.50,599.30 372.30,599.30 368.90,593.30" fill="#cb0a33"/>
<polygon points="403.80,537.70 410.60,537.70 407.20,531.70" fill="#cb0a33"/>
<polygon points="442.20,578.30 449.00,578.30 445.60,572.30" fill="#cb0a33"/>
<polygon points="480.40,590.50 487.20,590.50 483.80,584.50" fill="#cb0a33"/>
<rect x="365.80" y="583.00" width="6.20" height="6.20" fill="#3aaa35"/>
<rect x="404.10" y="523.80" width="6.20" height="6.20" fill="#3aaa35"/>
<rect x="442.50" y="554.10" width="6.20" height="6.20" fill="#3aaa35"/>
<rect x="480.70" y="566.90" width="6.20" height="6.20" fill="#3aaa35"/>
<line x1="345.00" y1="668.40" x2="357.00" y2="668.40" stroke="#3aaa35" stroke-width="1.5" />
<circle cx="351.20" cy="668.40" r="2.8" fill="#3aaa35"/>
<text transform="translate(362.00,672.20) scale(0.9844,1)" font-size="11" >FMC63</text>
<line x1="407.70" y1="668.40" x2="420.00" y2="668.40" stroke="#cb0a33" stroke-width="1.5" />
<circle cx="413.80" cy="668.40" r="2.8" fill="#cb0a33"/>
<text transform="translate(424.40,672.20) scale(0.9473,1)" font-size="11" >VH4vκ1</text>
<line x1="471.50" y1="668.40" x2="483.70" y2="668.40" stroke="#16508f" stroke-width="1.5" />
<circle cx="477.50" cy="668.40" r="2.8" fill="#16508f"/>
<text transform="translate(487.70,672.20) scale(0.9907,1)" font-size="11" >4D5</text>
<text transform="translate(153.00,712.00) scale(1.08,1)" font-size="16" font-weight="bold" style="stroke-width:0.5px">G</text>
<line x1="195.90" y1="736.50" x2="195.90" y2="855.05" stroke="#111" stroke-width="1.5" />
<line x1="191.40" y1="854.30" x2="195.90" y2="854.30" stroke="#111" stroke-width="1.5" />
<text transform="translate(187.50,858.00) scale(1.2000,1)" font-size="10.0" text-anchor="end" >0</text>
<line x1="191.40" y1="831.60" x2="195.90" y2="831.60" stroke="#111" stroke-width="1.5" />
<text transform="translate(187.50,835.30) scale(1.2000,1)" font-size="10.0" text-anchor="end" >2</text>
<line x1="191.40" y1="808.90" x2="195.90" y2="808.90" stroke="#111" stroke-width="1.5" />
<text transform="translate(187.50,812.60) scale(1.2000,1)" font-size="10.0" text-anchor="end" >4</text>
<line x1="191.40" y1="786.20" x2="195.90" y2="786.20" stroke="#111" stroke-width="1.5" />
<text transform="translate(187.50,789.90) scale(1.2000,1)" font-size="10.0" text-anchor="end" >6</text>
<line x1="191.40" y1="763.50" x2="195.90" y2="763.50" stroke="#111" stroke-width="1.5" />
<text transform="translate(187.50,767.20) scale(1.2000,1)" font-size="10.0" text-anchor="end" >8</text>
<line x1="191.40" y1="740.80" x2="195.90" y2="740.80" stroke="#111" stroke-width="1.5" />
<text transform="translate(187.50,744.50) scale(1.2000,1)" font-size="10.0" text-anchor="end" >10</text>
<line x1="195.15" y1="854.30" x2="367.50" y2="854.30" stroke="#111" stroke-width="1.5" />
<line x1="222.50" y1="854.30" x2="222.50" y2="858.80" stroke="#111" stroke-width="1.5" />
<line x1="280.00" y1="854.30" x2="280.00" y2="858.80" stroke="#111" stroke-width="1.5" />
<line x1="338.70" y1="854.30" x2="338.70" y2="858.80" stroke="#111" stroke-width="1.5" />
<rect x="202.00" y="829.90" width="9.20" height="24.40" fill="#3aaa35"/>
<rect x="217.90" y="823.65" width="9.20" height="30.64" fill="#cb0a33"/>
<rect x="233.90" y="817.98" width="9.20" height="36.32" fill="#16508f"/>
<line x1="206.60" y1="812.87" x2="206.60" y2="843.52" stroke="#111" stroke-width="1.3" />
<line x1="203.90" y1="812.87" x2="209.30" y2="812.87" stroke="#111" stroke-width="1.3" />
<line x1="203.90" y1="843.52" x2="209.30" y2="843.52" stroke="#111" stroke-width="1.3" />
<line x1="222.50" y1="808.33" x2="222.50" y2="837.27" stroke="#111" stroke-width="1.3" />
<line x1="219.80" y1="808.33" x2="225.20" y2="808.33" stroke="#111" stroke-width="1.3" />
<line x1="219.80" y1="837.27" x2="225.20" y2="837.27" stroke="#111" stroke-width="1.3" />
<line x1="238.50" y1="802.09" x2="238.50" y2="829.33" stroke="#111" stroke-width="1.3" />
<line x1="235.80" y1="802.09" x2="241.20" y2="802.09" stroke="#111" stroke-width="1.3" />
<line x1="235.80" y1="829.33" x2="241.20" y2="829.33" stroke="#111" stroke-width="1.3" />
<circle cx="206.60" cy="797.55" r="2.6" fill="#111"/>
<circle cx="206.60" cy="837.84" r="2.6" fill="#111"/>
<circle cx="206.60" cy="850.33" r="2.6" fill="#111"/>
<circle cx="222.50" cy="797.55" r="2.6" fill="#111"/>
<circle cx="222.50" cy="822.52" r="2.6" fill="#111"/>
<circle cx="222.50" cy="847.49" r="2.6" fill="#111"/>
<circle cx="236.50" cy="802.66" r="2.6" fill="#111"/>
<circle cx="242.50" cy="802.09" r="2.6" fill="#111"/>
<circle cx="238.50" cy="847.49" r="2.6" fill="#111"/>
<rect x="259.60" y="851.46" width="9.20" height="2.84" fill="#3aaa35"/>
<rect x="275.50" y="850.33" width="9.20" height="3.97" fill="#cb0a33"/>
<rect x="291.40" y="848.62" width="9.20" height="5.67" fill="#16508f"/>
<line x1="264.20" y1="850.33" x2="264.20" y2="852.60" stroke="#111" stroke-width="1.3" />
<line x1="261.50" y1="850.33" x2="266.90" y2="850.33" stroke="#111" stroke-width="1.3" />
<line x1="261.50" y1="852.60" x2="266.90" y2="852.60" stroke="#111" stroke-width="1.3" />
<line x1="280.10" y1="844.65" x2="280.10" y2="852.60" stroke="#111" stroke-width="1.3" />
<line x1="277.40" y1="844.65" x2="282.80" y2="844.65" stroke="#111" stroke-width="1.3" />
<line x1="277.40" y1="852.60" x2="282.80" y2="852.60" stroke="#111" stroke-width="1.3" />
<line x1="296.00" y1="844.08" x2="296.00" y2="852.03" stroke="#111" stroke-width="1.3" />
<line x1="293.30" y1="844.08" x2="298.70" y2="844.08" stroke="#111" stroke-width="1.3" />
<line x1="293.30" y1="852.03" x2="298.70" y2="852.03" stroke="#111" stroke-width="1.3" />
<circle cx="261.20" cy="849.19" r="2.6" fill="#111"/>
<circle cx="267.20" cy="851.46" r="2.6" fill="#111"/>
<circle cx="280.10" cy="842.95" r="2.6" fill="#111"/>
<circle cx="277.10" cy="850.33" r="2.6" fill="#111"/>
<circle cx="283.10" cy="850.33" r="2.6" fill="#111"/>
<circle cx="296.00" cy="842.95" r="2.6" fill="#111"/>
<circle cx="294.00" cy="848.62" r="2.6" fill="#111"/>
<circle cx="299.00" cy="850.89" r="2.6" fill="#111"/>
<rect x="319.00" y="789.61" width="9.20" height="64.69" fill="#3aaa35"/>
<rect x="334.80" y="805.50" width="9.20" height="48.80" fill="#cb0a33"/>
<rect x="351.00" y="789.61" width="9.20" height="64.69" fill="#16508f"/>
<line x1="323.60" y1="766.90" x2="323.60" y2="811.17" stroke="#111" stroke-width="1.3" />
<line x1="320.90" y1="766.90" x2="326.30" y2="766.90" stroke="#111" stroke-width="1.3" />
<line x1="320.90" y1="811.17" x2="326.30" y2="811.17" stroke="#111" stroke-width="1.3" />
<line x1="339.40" y1="785.06" x2="339.40" y2="823.65" stroke="#111" stroke-width="1.3" />
<line x1="336.70" y1="785.06" x2="342.10" y2="785.06" stroke="#111" stroke-width="1.3" />
<line x1="336.70" y1="823.65" x2="342.10" y2="823.65" stroke="#111" stroke-width="1.3" />
<line x1="355.60" y1="763.50" x2="355.60" y2="814.57" stroke="#111" stroke-width="1.3" />
<line x1="352.90" y1="763.50" x2="358.30" y2="763.50" stroke="#111" stroke-width="1.3" />
<line x1="352.90" y1="814.57" x2="358.30" y2="814.57" stroke="#111" stroke-width="1.3" />
<circle cx="323.60" cy="751.01" r="2.6" fill="#111"/>
<circle cx="323.60" cy="787.90" r="2.6" fill="#111"/>
<circle cx="323.60" cy="825.92" r="2.6" fill="#111"/>
<circle cx="339.40" cy="770.31" r="2.6" fill="#111"/>
<circle cx="339.40" cy="806.06" r="2.6" fill="#111"/>
<circle cx="339.40" cy="835.57" r="2.6" fill="#111"/>
<circle cx="355.60" cy="743.07" r="2.6" fill="#111"/>
<circle cx="355.60" cy="832.73" r="2.6" fill="#111"/>
<line x1="206.30" y1="786.20" x2="238.30" y2="786.20" stroke="#333" stroke-width="1.3" />
<line x1="206.30" y1="782.70" x2="206.30" y2="789.70" stroke="#333" stroke-width="1.3" />
<line x1="238.30" y1="782.70" x2="238.30" y2="789.70" stroke="#333" stroke-width="1.3" />
<text x="222.30" y="780.70" font-size="11.5" text-anchor="middle" fill="#222" >ns</text>
<line x1="263.80" y1="827.50" x2="295.00" y2="827.50" stroke="#333" stroke-width="1.3" />
<line x1="263.80" y1="824.00" x2="263.80" y2="831.00" stroke="#333" stroke-width="1.3" />
<line x1="295.00" y1="824.00" x2="295.00" y2="831.00" stroke="#333" stroke-width="1.3" />
<text x="279.40" y="821.50" font-size="11.5" text-anchor="middle" fill="#222" >ns</text>
<line x1="323.80" y1="731.80" x2="355.00" y2="731.80" stroke="#333" stroke-width="1.3" />
<line x1="323.80" y1="728.30" x2="323.80" y2="735.30" stroke="#333" stroke-width="1.3" />
<line x1="355.00" y1="728.30" x2="355.00" y2="735.30" stroke="#333" stroke-width="1.3" />
<text x="339.40" y="725.80" font-size="11.5" text-anchor="middle" fill="#222" >ns</text>
<text transform="translate(211.30,873.30) scale(0.9904,1)" font-size="11" >PD1</text>
<text transform="translate(266.30,873.30) scale(1.0661,1)" font-size="11" >LAG3</text>
<text transform="translate(326.30,873.30) scale(1.0454,1)" font-size="11" >TIM3</text>
<text transform="translate(165.40,794.50) rotate(-90) scale(0.7024,1)" font-size="13.5" text-anchor="middle" fill="#111" style="stroke-width:0.6px" >%EGFR+ T cells</text>
<rect x="205.00" y="885.00" width="8.60" height="8.60" fill="#3aaa35"/>
<text transform="translate(218.80,893.30) scale(0.9705,1)" font-size="11" >FMC63</text>
<rect x="263.80" y="885.00" width="8.60" height="8.60" fill="#cb0a33"/>
<text transform="translate(277.00,893.30) scale(0.9551,1)" font-size="11" >VH4vκ1</text>
<rect x="325.00" y="885.00" width="8.60" height="8.60" fill="#16508f"/>
<text transform="translate(337.50,893.30) scale(0.9659,1)" font-size="11" >4D5</text>
<rect x="0.5" y="0.5" width="519" height="904" fill="none" stroke="#2a2a2a" stroke-width="1.2"/>
</svg>
</body></html>
